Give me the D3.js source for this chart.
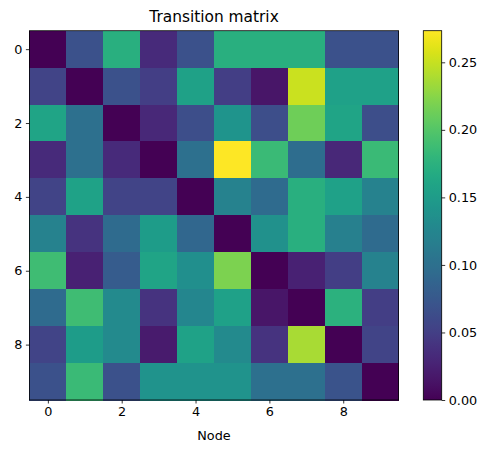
<!DOCTYPE html>
<html>
<head>
<meta charset="utf-8">
<script src="https://cdn.jsdelivr.net/npm/d3@7"></script>
<style>
  body { margin: 0; background: #fff; }
  text { font-family: "DejaVu Sans", sans-serif; fill: #000; }
</style>
</head>
<body>
<script>
// node labels, one per row / column
const nodes = d3.range(10);
// transition probabilities, row = from, column = to
const row0 = [0.000, 0.068, 0.172, 0.033, 0.068, 0.172, 0.172, 0.172, 0.068, 0.068];
const row1 = [0.055, 0.000, 0.068, 0.050, 0.156, 0.050, 0.016, 0.252, 0.155, 0.155];
const row2 = [0.160, 0.100, 0.000, 0.030, 0.065, 0.142, 0.065, 0.213, 0.160, 0.065];
const row3 = [0.033, 0.100, 0.033, 0.000, 0.100, 0.2734, 0.185, 0.097, 0.030, 0.185];
const row4 = [0.055, 0.158, 0.055, 0.055, 0.000, 0.120, 0.095, 0.172, 0.155, 0.120];
const row5 = [0.120, 0.040, 0.095, 0.150, 0.090, 0.000, 0.137, 0.172, 0.118, 0.095];
const row6 = [0.188, 0.025, 0.078, 0.160, 0.135, 0.219, 0.000, 0.025, 0.050, 0.120];
const row7 = [0.095, 0.188, 0.130, 0.040, 0.125, 0.155, 0.016, 0.000, 0.175, 0.050];
const row8 = [0.055, 0.150, 0.130, 0.020, 0.158, 0.130, 0.040, 0.238, 0.000, 0.055];
const row9 = [0.068, 0.185, 0.068, 0.140, 0.140, 0.140, 0.100, 0.100, 0.070, 0.000];
const matrix = [row0, row1, row2, row3, row4, row5, row6, row7, row8, row9];
const axisTicks = [0, 2, 4, 6, 8];
const barTicks = [0, 0.05, 0.10, 0.15, 0.20, 0.25];

const W = 492, H = 453;
const svg = d3.select("body").append("svg")
  .attr("width", W)
  .attr("height", H);

const plotL = 29.4, plotR = 398.6, plotT = 30.7, plotB = 400;

const cells = [];
matrix.forEach((r, i) => r.forEach((v, j) => cells.push({ i, j, v })));
const vmax = d3.max(cells, d => d.v);

const x = d3.scaleBand().domain(nodes).range([plotL, plotR]);
const y = d3.scaleBand().domain(nodes).range([plotT, plotB]);
const color = d3.scaleSequential(d3.interpolateViridis).domain([0, vmax]);

svg.append("g")
  .selectAll("rect")
  .data(cells)
  .enter().append("rect")
  .attr("x", d => x(d.j))
  .attr("y", d => y(d.i))
  .attr("width", x.bandwidth() + 0.5)
  .attr("height", y.bandwidth() + 0.5)
  .attr("fill", d => color(d.v))
  .attr("shape-rendering", "crispEdges");

// frame
svg.append("rect")
  .attr("x", plotL).attr("y", plotT)
  .attr("width", plotR - plotL).attr("height", plotB - plotT)
  .attr("fill", "none").attr("stroke", "#000").attr("stroke-width", 0.8);

const fontSize = "12.8px";
const styleAxis = g => {
  g.select(".domain").remove();
  g.selectAll(".tick line").attr("stroke", "#000").attr("stroke-width", 0.8);
  g.selectAll(".tick text").attr("font-size", fontSize).attr("font-family", "DejaVu Sans").attr("fill", "#000");
};

const xPos = d3.scaleLinear().domain([-0.5, 9.5]).range([plotL, plotR]);
const yPos = d3.scaleLinear().domain([-0.5, 9.5]).range([plotT, plotB]);

svg.append("g")
  .attr("transform", `translate(0,${plotB})`)
  .call(d3.axisBottom(xPos).tickValues(axisTicks).tickFormat(d3.format("d")).tickSize(3.5).tickPadding(3.5))
  .call(styleAxis);

svg.append("g")
  .attr("transform", `translate(${plotL},0)`)
  .call(d3.axisLeft(yPos).tickValues(axisTicks).tickFormat(d3.format("d")).tickSize(3.5).tickPadding(3.5))
  .call(styleAxis);

svg.append("text")
  .attr("x", (plotL + plotR) / 2)
  .attr("y", 440)
  .attr("text-anchor", "middle")
  .attr("font-size", fontSize)
  .text("Node");

svg.append("text")
  .attr("x", (plotL + plotR) / 2)
  .attr("y", 21.5)
  .attr("text-anchor", "middle")
  .attr("font-size", "15.4px")
  .text("Transition matrix");

// colorbar
const cbLeft = 423.3, cbRight = 441.7;
const cbScale = d3.scaleLinear().domain([0, vmax]).range([plotB, plotT]);
const defs = svg.append("defs");
const grad = defs.append("linearGradient")
  .attr("id", "viridis")
  .attr("x1", 0).attr("y1", 1).attr("x2", 0).attr("y2", 0);
grad.selectAll("stop")
  .data(d3.range(0, 1.0001, 0.02))
  .enter().append("stop")
  .attr("offset", d => d)
  .attr("stop-color", d => d3.interpolateViridis(d));

svg.append("rect")
  .attr("x", cbLeft).attr("y", plotT)
  .attr("width", cbRight - cbLeft).attr("height", plotB - plotT)
  .attr("fill", "url(#viridis)")
  .attr("stroke", "#000").attr("stroke-width", 0.8);

svg.append("g")
  .attr("transform", `translate(${cbRight},0)`)
  .call(d3.axisRight(cbScale).tickValues(barTicks).tickFormat(d3.format(".2f")).tickSize(3.5).tickPadding(3.5))
  .call(styleAxis);
</script>
</body>
</html>
